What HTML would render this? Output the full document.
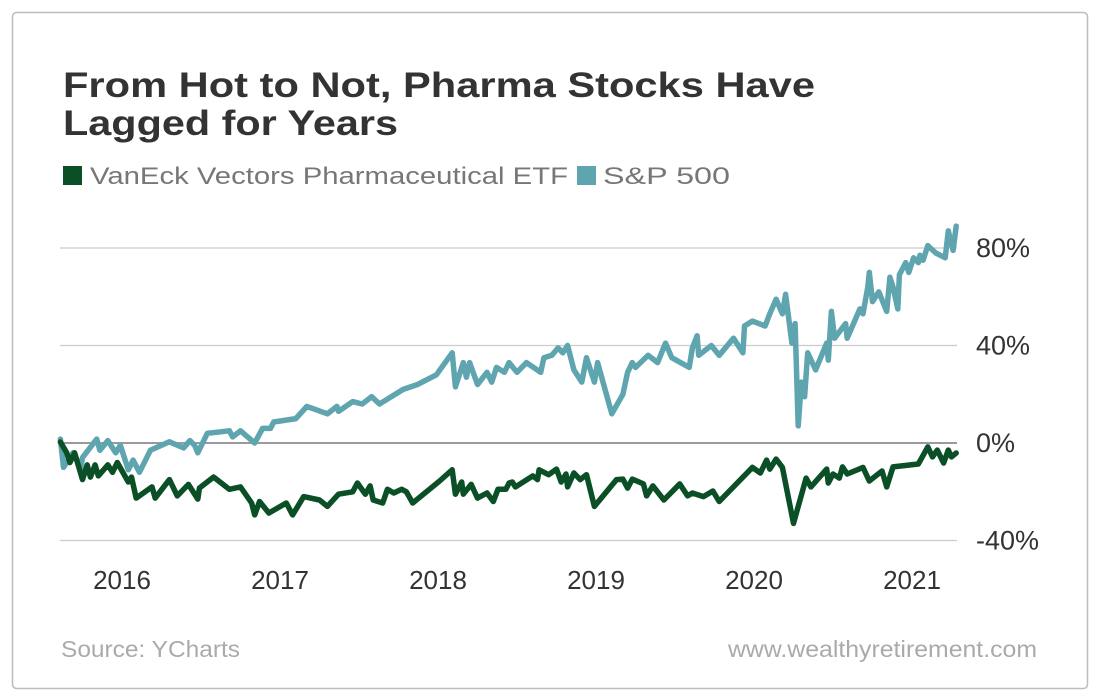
<!DOCTYPE html>
<html><head><meta charset="utf-8"><style>
html,body{margin:0;padding:0;background:#fff;}
svg{display:block;font-family:"Liberation Sans",Arial,sans-serif;}
</style></head><body>
<svg id="chart" width="1100" height="700" viewBox="0 0 1100 700">
<rect x="12.5" y="12.5" width="1075" height="676" rx="4" fill="#fff" stroke="#bdbdbd" stroke-width="1.5"/>
<text x="63" y="97" font-size="35" font-weight="bold" fill="#333" textLength="752" lengthAdjust="spacingAndGlyphs">From Hot to Not, Pharma Stocks Have</text>
<text x="63" y="135" font-size="35" font-weight="bold" fill="#333" textLength="335" lengthAdjust="spacingAndGlyphs">Lagged for Years</text>
<g>
<rect x="63" y="166" width="19" height="19" fill="#0a4f25"/>
<text x="90" y="184" font-size="24" fill="#777" textLength="478" lengthAdjust="spacingAndGlyphs">VanEck Vectors Pharmaceutical ETF</text>
<rect x="577" y="166" width="19" height="19" fill="#5fa5b0"/>
<text x="603" y="184" font-size="24" fill="#777" textLength="127" lengthAdjust="spacingAndGlyphs">S&amp;P 500</text>
</g>
<g id="grid"></g><g id="ylab"></g><g id="xlab"></g><g id="series"></g>
<text x="61" y="657" font-size="23" fill="#aaa" textLength="179" lengthAdjust="spacingAndGlyphs">Source: YCharts</text>
<text x="728" y="657" font-size="23" fill="#aaa" textLength="309" lengthAdjust="spacingAndGlyphs">www.wealthyretirement.com</text>
</svg>
<script>
const yTicks=[80,40,0,-40];
const yTickLabels=["80%","40%","0%","-40%"];
const xYears=[2016,2017,2018,2019,2020,2021];
const spDates=[2015.61,2015.63,2015.69,2015.74,2015.75,2015.84,2015.86,2015.91,2015.96,2015.99,2016.04,2016.07,2016.11,2016.18,2016.30,2016.39,2016.43,2016.46,2016.48,2016.54,2016.68,2016.70,2016.75,2016.84,2016.89,2016.94,2016.96,2017.10,2017.17,2017.30,2017.36,2017.37,2017.46,2017.52,2017.58,2017.63,2017.78,2017.87,2017.99,2018.09,2018.11,2018.16,2018.18,2018.20,2018.25,2018.31,2018.34,2018.37,2018.42,2018.45,2018.50,2018.56,2018.65,2018.67,2018.72,2018.76,2018.79,2018.82,2018.86,2018.91,2018.94,2018.99,2019.01,2019.10,2019.17,2019.20,2019.23,2019.25,2019.33,2019.39,2019.44,2019.48,2019.59,2019.61,2019.64,2019.65,2019.73,2019.78,2019.87,2019.93,2019.94,2019.99,2020.07,2020.10,2020.14,2020.18,2020.20,2020.24,2020.26,2020.28,2020.30,2020.32,2020.34,2020.39,2020.46,2020.47,2020.49,2020.51,2020.58,2020.59,2020.67,2020.69,2020.72,2020.73,2020.75,2020.79,2020.84,2020.86,2020.88,2020.91,2020.92,2020.96,2020.98,2021.01,2021.04,2021.05,2021.07,2021.10,2021.15,2021.21,2021.23,2021.26,2021.28];
const spValues=[1.6,-10,-4,-10,-6,1.6,-3,1,-4,-1,-11,-7,-12,-3,0.5,-2,1,-1,-4,4,5,2.5,5,0,6,6,8.6,10,15,12,15,13,17,16,19,16,22,24,28,37,23,33,27,33,24,29,25,31,29,33,29,33,29,35,36,39,37,40,30,25,35,25,33,12,20,29,33,31,36,33,41,35,31,39,44,36,40,36,43,37,48,50,48,53,59,53,61,41,49,7,25,19,37,30,41,34,54,43,49,43,55,53,64,70,58,62,54,68,64,55,69,74,70,76,74,77,75,81,78,76,87,79,89,85,89];
const phDates=[2015.61,2015.65,2015.67,2015.70,2015.75,2015.78,2015.80,2015.83,2015.85,2015.91,2015.94,2015.97,2016.04,2016.06,2016.09,2016.19,2016.21,2016.30,2016.35,2016.42,2016.48,2016.49,2016.58,2016.68,2016.75,2016.82,2016.84,2016.87,2016.93,2017.04,2017.08,2017.15,2017.25,2017.30,2017.37,2017.46,2017.49,2017.54,2017.57,2017.59,2017.65,2017.68,2017.72,2017.77,2017.80,2017.84,2018.01,2018.09,2018.11,2018.15,2018.16,2018.21,2018.25,2018.31,2018.35,2018.38,2018.43,2018.45,2018.47,2018.49,2018.60,2018.63,2018.64,2018.70,2018.75,2018.78,2018.81,2018.82,2018.86,2018.90,2018.94,2018.99,2019.13,2019.17,2019.20,2019.23,2019.30,2019.32,2019.36,2019.43,2019.53,2019.58,2019.61,2019.68,2019.74,2019.78,2019.99,2020.04,2020.08,2020.10,2020.14,2020.18,2020.25,2020.33,2020.36,2020.46,2020.47,2020.50,2020.54,2020.56,2020.59,2020.69,2020.73,2020.81,2020.84,2020.88,2021.04,2021.10,2021.13,2021.16,2021.20,2021.23,2021.25,2021.28];
const phValues=[0.4,-4,-8,-4,-15,-9,-14,-9,-13.5,-9,-12,-8,-16,-14,-22.6,-18,-22.6,-15,-21.7,-17,-23,-18.5,-14,-19,-18,-24.6,-29.5,-24,-28.7,-24.6,-29.5,-22,-23.4,-26,-21,-20,-16.4,-21,-17.6,-23.4,-24.6,-19,-20.5,-19,-20,-24.6,-15.6,-11,-21,-16,-21,-17,-22.6,-20.5,-24,-19,-19,-16.4,-16,-18,-13.5,-15,-11,-13,-10.7,-16,-12.7,-18,-12.3,-15,-13,-26,-15,-14.8,-18.5,-14.8,-16.8,-21.7,-17.6,-23.4,-16.8,-21.7,-20.5,-22,-19.7,-24,-10,-12.3,-7,-10.7,-6.6,-10,-33,-14.4,-18,-10.7,-16.4,-12.7,-14.4,-9.8,-12.7,-10,-15.6,-11.5,-18,-9.8,-8.6,-1.6,-5.7,-2.9,-8.2,-2.9,-5.7,-4.1];

const NS="http://www.w3.org/2000/svg";
const X0=60,X1=957;
function xScale(yr){return 122+(yr-2016)*158;}
function yScale(v){return 443-v*(97.5/40);}
function mk(tag,attrs,parent){const e=document.createElementNS(NS,tag);for(const k in attrs)e.setAttribute(k,attrs[k]);parent.appendChild(e);return e;}
const grid=document.getElementById('grid'),ylab=document.getElementById('ylab'),xlab=document.getElementById('xlab'),series=document.getElementById('series');
yTicks.forEach((t,i)=>{
  const y=yScale(t);
  const l=mk('line',{x1:X0,x2:X1,y1:y,y2:y,stroke:t===0?'#9a9a9a':'#cccccc','stroke-width':t===0?2:1.2},grid);
  
  
  const tx=mk('text',{x:976,y:y+9,'font-size':27,fill:'#333'},ylab);
  tx.textContent=yTickLabels[i];
  
  
});
xYears.forEach(yr=>{
  const tx=mk('text',{x:xScale(yr),y:589,'font-size':26,fill:'#333','text-anchor':'middle'},xlab);
  tx.textContent=String(yr);
  
  
});
function pts(d,v){return d.map((x,i)=>xScale(x).toFixed(1)+','+yScale(v[i]).toFixed(1)).join(' ');}
const sp=mk('polyline',{points:pts(spDates,spValues),fill:'none',stroke:'#5fa5b0','stroke-width':5.5,'stroke-linejoin':'round','stroke-linecap':'round'},series);


const ph=mk('polyline',{points:pts(phDates,phValues),fill:'none',stroke:'#0a4f25','stroke-width':5.5,'stroke-linejoin':'round','stroke-linecap':'round'},series);


</script>
</body></html>
